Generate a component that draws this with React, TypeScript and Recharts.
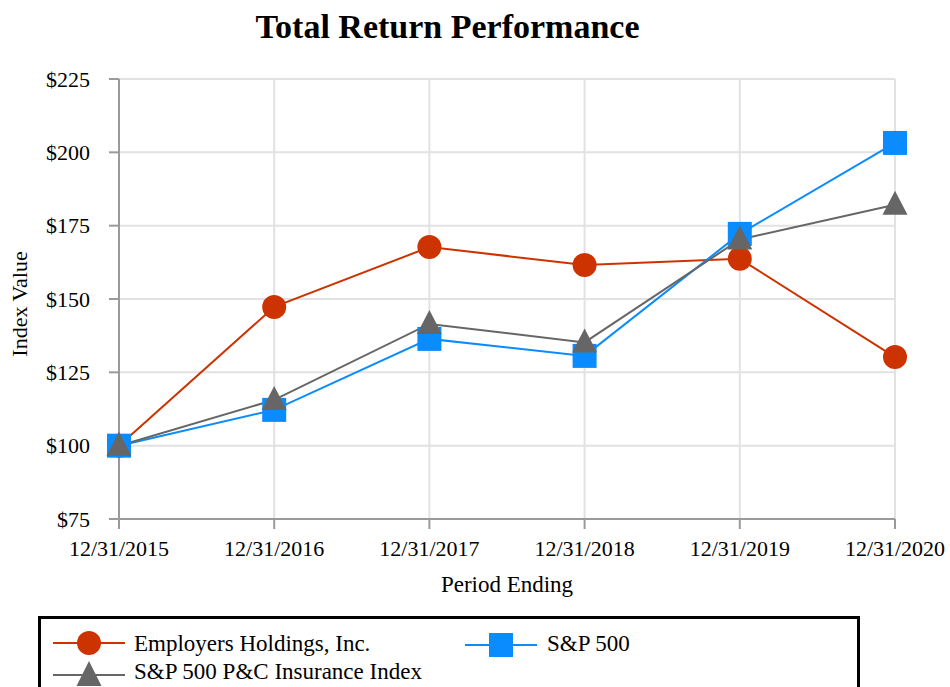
import React from 'react';
import { LineChart, Line, XAxis, YAxis, CartesianGrid, Label } from 'recharts';

// 기간 (x축 카테고리)
const periods = ['12/31/2015', '12/31/2016', '12/31/2017', '12/31/2018', '12/31/2019', '12/31/2020'];

// 시리즈 값
const employersValues = [100, 147.3, 167.7, 161.6, 163.7, 130.2];
const sp500Values = [100, 112.2, 136.4, 130.6, 172.2, 203.2];
const pcInsuranceValues = [100, 115.6, 141.5, 135.2, 170.3, 182.1];

// y축 틱
const yTicks = [75, 100, 125, 150, 175, 200, 225];

// 범례 라벨
const legendLabels = ['Employers Holdings, Inc.', 'S&P 500', 'S&P 500 P&C Insurance Index'];

const FONT = '"Liberation Serif", "Times New Roman", serif';
const ORANGE = '#CC3300';
const BLUE = '#0A8CFF';
const GREY = '#666666';
const AXIS = '#9a9a9a';

const chartData = periods.map((p, i) => ({
  period: p,
  employers: employersValues[i],
  sp500: sp500Values[i],
  pc: pcInsuranceValues[i],
}));

const CircleDot = (props: any) => {
  const { cx, cy } = props;
  if (cx == null || cy == null) return null;
  return <circle cx={cx} cy={cy} r={12} fill={ORANGE} />;
};

const SquareDot = (props: any) => {
  const { cx, cy } = props;
  if (cx == null || cy == null) return null;
  return <rect x={cx - 12} y={cy - 12} width={24} height={24} fill={BLUE} />;
};

const TriangleDot = (props: any) => {
  const { cx, cy } = props;
  if (cx == null || cy == null) return null;
  return <polygon points={`${cx},${cy - 14} ${cx + 12.5},${cy + 10} ${cx - 12.5},${cy + 10}`} fill={GREY} />;
};

export default function App() {
  return (
    <div style={{ position: 'absolute', left: 0, top: 0, width: 950, height: 687, overflow: 'hidden', background: '#fff', fontFamily: FONT }}>
      {/* 제목 */}
      <div style={{ position: 'absolute', left: 0, width: 895, top: 8, textAlign: 'center', fontSize: 34, fontWeight: 'bold', color: '#000' }}>
        Total Return Performance
      </div>

      <LineChart
        width={950}
        height={687}
        data={chartData}
        margin={{ top: 79, right: 55, bottom: 128, left: 0 }}
        style={{ fontFamily: FONT }}
      >
        <CartesianGrid stroke="#e2e2e2" strokeWidth={2} />
        <XAxis
          dataKey="period"
          stroke={AXIS}
          strokeWidth={2}
          tickSize={10}
          tickMargin={11}
          height={40}
          tick={{ fontSize: 22, fill: '#000', fontFamily: FONT }}
          interval={0}
        >
          <Label
            content={() => (
              <text x={507} y={592} textAnchor="middle" fontSize={23} fill="#000" fontFamily={FONT}>
                Period Ending
              </text>
            )}
          />
        </XAxis>
        <YAxis
          domain={[75, 225]}
          ticks={yTicks}
          stroke={AXIS}
          strokeWidth={2}
          tickSize={10}
          tickMargin={19}
          width={119}
          tickFormatter={(v: number) => `$${v}`}
          tick={{ fontSize: 22, fill: '#000', fontFamily: FONT }}
        >
          <Label
            content={() => (
              <text x={0} y={0} transform="translate(27,304) rotate(-90)" textAnchor="middle" fontSize={22} fill="#000" fontFamily={FONT}>
                Index Value
              </text>
            )}
          />
        </YAxis>
        <Line type="linear" dataKey="employers" stroke={ORANGE} strokeWidth={2} dot={<CircleDot />} activeDot={false} isAnimationActive={false} />
        <Line type="linear" dataKey="sp500" stroke={BLUE} strokeWidth={2} dot={<SquareDot />} activeDot={false} isAnimationActive={false} />
        <Line type="linear" dataKey="pc" stroke={GREY} strokeWidth={2} dot={<TriangleDot />} activeDot={false} isAnimationActive={false} />
      </LineChart>

      {/* 범례 */}
      <svg width={950} height={90} style={{ position: 'absolute', left: 0, top: 600 }} fontFamily={FONT}>
        <rect x={39.5} y={17.5} width={819} height={90} fill="none" stroke="#000" strokeWidth={3} />
        <line x1={53} y1={43} x2={125} y2={43} stroke={ORANGE} strokeWidth={2} />
        <circle cx={89} cy={43} r={12} fill={ORANGE} />
        <text x={134} y={51} fontSize={23} fill="#000">{legendLabels[0]}</text>

        <line x1={465} y1={45} x2={537} y2={45} stroke={BLUE} strokeWidth={2} />
        <rect x={489} y={33} width={24} height={24} fill={BLUE} />
        <text x={547} y={51} fontSize={23} fill="#000">{legendLabels[1]}</text>

        <line x1={53} y1={75} x2={125} y2={75} stroke={GREY} strokeWidth={2} />
        <polygon points="89,61 101.5,86 76.5,86" fill={GREY} />
        <text x={134} y={79} fontSize={23} fill="#000">{legendLabels[2]}</text>
      </svg>
    </div>
  );
}
